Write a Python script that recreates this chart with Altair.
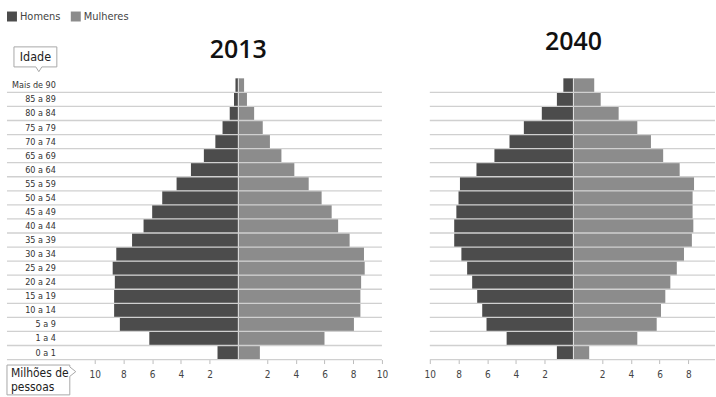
import altair as alt
import pandas as pd

ages = ["Mais de 90", "85 a 89", "80 a 84", "75 a 79", "70 a 74", "65 a 69",
        "60 a 64", "55 a 59", "50 a 54", "45 a 49", "40 a 44", "35 a 39",
        "30 a 34", "25 a 29", "20 a 24", "15 a 19", "10 a 14", "5 a 9",
        "1 a 4", "0 a 1"]

homens_2013 = [0.2, 0.3, 0.6, 1.1, 1.6, 2.4, 3.3, 4.3, 5.3, 6.0,
               6.6, 7.4, 8.5, 8.75, 8.6, 8.65, 8.65, 8.25, 6.2, 1.45]
mulheres_2013 = [0.4, 0.6, 1.1, 1.7, 2.2, 3.0, 3.9, 4.9, 5.8, 6.5,
                 6.95, 7.75, 8.75, 8.8, 8.55, 8.5, 8.5, 8.05, 6.0, 1.5]
homens_2040 = [0.7, 1.15, 2.2, 3.45, 4.45, 5.5, 6.75, 7.9, 8.0, 8.15,
               8.3, 8.3, 7.8, 7.4, 7.05, 6.7, 6.35, 6.05, 4.65, 1.15]
mulheres_2040 = [1.45, 1.9, 3.15, 4.45, 5.4, 6.25, 7.4, 8.4, 8.3, 8.3,
                 8.35, 8.25, 7.7, 7.2, 6.75, 6.4, 6.1, 5.8, 4.45, 1.1]

anos = ["2013", "2040"]
sexos = ["Homens", "Mulheres"]
cores = ["#4c4c4c", "#8c8c8c"]
x_ticks_2013 = [-10, -8, -6, -4, -2, 2, 4, 6, 8, 10]
x_ticks_2040 = [-10, -8, -6, -4, -2, 2, 4, 6, 8]
rotulo_idade = "Idade"
rotulo_x = ["Milhões de", "pessoas"]

FONT = "'Liberation Sans Narrow', 'DejaVu Sans Condensed', 'Roboto Condensed', 'Liberation Sans', sans-serif"
TFONT = "'Open Sans', 'Liberation Sans', sans-serif"
H = 282
N = len(ages)
one = pd.DataFrame({"k": [0]})
# row boundaries (0 = bottom edge, N-1 = line just below the top row)
limites = pd.DataFrame({"b": list(range(N))})


def make_df(h, m):
    rows = []
    for a, hv, mv in zip(ages, h, m):
        rows.append({"idade": a, "sexo": sexos[0], "valor": -hv})
        rows.append({"idade": a, "sexo": sexos[1], "valor": mv})
    return pd.DataFrame(rows)


def panel(year, h, m, width, domain, ticks, title_y, left):
    df = make_df(h, m)
    xscale = alt.Scale(domain=domain, nice=False, zero=False)
    yscale = alt.Scale(domain=ages, paddingInner=0, paddingOuter=0)
    xaxis = alt.Axis(values=ticks, labelExpr="abs(datum.value)", title=None,
                     domain=False, grid=False, labelOverlap=False,
                     labelFlush=False, tickColor="#bdbdbd", tickSize=4,
                     labelFontSize=10, labelColor="#444", labelPadding=6,
                     labelFont=FONT)
    bars = alt.Chart(df).mark_bar(strokeWidth=0).encode(
        x=alt.X("valor:Q", scale=xscale, axis=xaxis, title=None),
        x2=alt.datum(0),
        y=alt.Y("idade:N", sort=ages, scale=yscale, axis=None),
        color=alt.Color("sexo:N", scale=alt.Scale(domain=sexos, range=cores), legend=None),
    )
    grid = alt.Chart(limites).mark_rule(color="#d0d0d0", strokeWidth=1.3).encode(
        y=alt.Y("b:Q", scale=alt.Scale(domain=[0, N], nice=False, zero=False), axis=None),
        x=alt.value(0), x2=alt.value(width))
    center = alt.Chart(one).mark_rule(color="#e6e6e6", strokeWidth=1).encode(
        x=alt.XDatum(0, axis=xaxis, title=None), y=alt.value(0), y2=alt.value(H))
    title = alt.Chart(one).mark_text(fontSize=25, fontWeight=600, font=TFONT,
                                     color="#111", baseline="alphabetic").encode(
        x=alt.XDatum(0, axis=xaxis, title=None), y=alt.value(title_y), text=alt.value(year))
    layers = [bars, center, title]
    if left:
        labels = alt.Chart(pd.DataFrame({"idade": ages})).mark_text(
            align="right", baseline="middle", fontSize=9, color="#333", font=FONT
        ).encode(y=alt.Y("idade:N", sort=ages, scale=yscale, axis=None),
                 x=alt.value(49), text="idade:N")
        leg = []
        for i, (s, c) in enumerate(zip(sexos, cores)):
            x0 = 5 + 64 * i
            leg.append(alt.Chart(one).mark_square(size=100, color=c, opacity=1).encode(
                x=alt.value(x0), y=alt.value(-62)))
            leg.append(alt.Chart(one).mark_text(align="left", baseline="middle", fontSize=11,
                                                color="#444", font=FONT).encode(
                x=alt.value(x0 + 8), y=alt.value(-62), text=alt.value(s)))
        idade_box = alt.Chart(one).mark_point(
            shape="M-1,-0.467 L1,-0.467 L1,0.467 L0.3,0.467 L0.16,0.69 L0.02,0.467 L-1,0.467 Z",
            size=1849, filled=True, fill="white", stroke="#a8a8a8", strokeWidth=1, opacity=1
        ).encode(x=alt.value(28.5), y=alt.value(-21.5))
        idade_txt = alt.Chart(one).mark_text(fontSize=12.5, color="#222", font=FONT,
                                             baseline="middle").encode(
            x=alt.value(28.5), y=alt.value(-21.5), text=alt.value(rotulo_idade))
        mil_box = alt.Chart(one).mark_point(
            shape="M-1,-0.46 L1,-0.46 L1,-0.4 L1.19,-0.25 L1,-0.1 L1,0.49 L-1,0.49 Z",
            size=3969, filled=True, fill="white", stroke="#a8a8a8", strokeWidth=1, opacity=1
        ).encode(x=alt.value(31.5), y=alt.value(302))
        mil_txt = alt.Chart(one).mark_text(fontSize=12, color="#222", font=FONT, align="left",
                                           baseline="top", lineHeight=15).encode(
            x=alt.value(4), y=alt.value(290), text=alt.value(rotulo_x))
        layers = layers + [labels] + leg + [idade_box, idade_txt, mil_box, mil_txt]
    base = alt.layer(*layers)
    return alt.layer(base, grid).resolve_scale(y="independent").properties(
        width=width, height=H, view=alt.ViewBackground(stroke="transparent", strokeWidth=0))


left = panel(anos[0], homens_2013, mulheres_2013, 376, [-16.111, 10], x_ticks_2013, -20, True)
right = panel(anos[1], homens_2040, mulheres_2040, 286, [-10, 9.86], x_ticks_2040, -28, False)

chart = alt.hconcat(left, right, spacing=48, bounds="flush").properties(
    padding={"left": 5, "top": 10, "right": 0, "bottom": 0}
).configure_view(stroke="transparent", strokeWidth=0).configure(font=FONT).configure_axisX(
    domain=False, grid=False, labelOverlap=False, labelFlush=False
)

chart.save("out.html", embed_options={"renderer": "svg", "actions": False})
